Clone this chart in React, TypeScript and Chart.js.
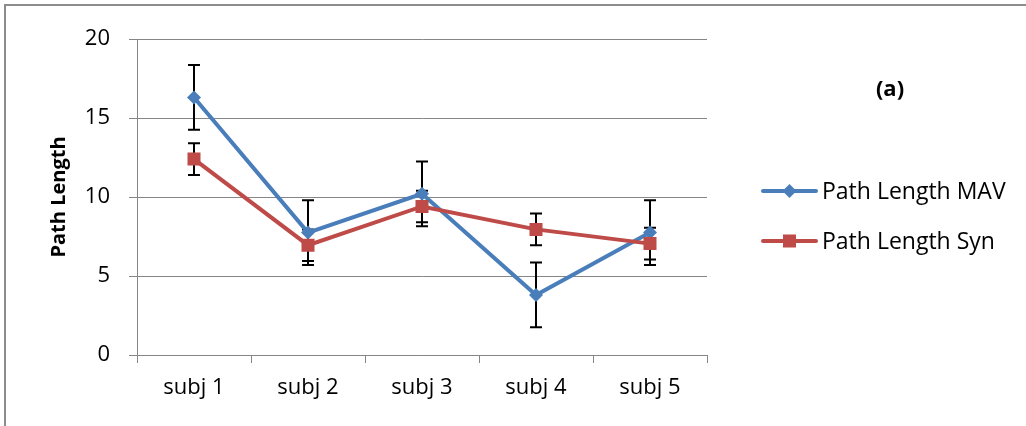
import { useEffect, useRef } from 'react';
import { Chart, registerables } from 'chart.js';

Chart.register(...registerables);

// Subjects along the category axis
const categories = ['subj 1', 'subj 2', 'subj 3', 'subj 4', 'subj 5'];

// Mean path length per subject and the half-height of each error bar
const mavValues = [16.3, 7.75, 10.2, 3.8, 7.75];
const mavErrors = [2.05, 2.05, 2.05, 2.05, 2.05];
const synValues = [12.4, 6.95, 9.4, 7.95, 7.05];
const synErrors = [1.0, 1.0, 1.0, 1.0, 1.0];

const seriesLabels = ['Path Length MAV', 'Path Length Syn'];
const yAxisTitle = 'Path Length';
const panelTag = '(a)';

const yMin = 0;
const yMax = 20;
const yStep = 5;

const FONT = '"Open Sans", "DejaVu Sans", sans-serif';
const BLUE = '#4A7EBB';
const RED = '#BE4B48';
const GRID = '#868686';

const errorsByDataset = [mavErrors, synErrors];

// Vertical error bars with caps, painted underneath the lines and markers
const errorBarsPlugin = {
  id: 'errorBars',
  beforeDatasetsDraw(chart: any) {
    const { ctx } = chart;
    const x = chart.scales.x;
    const y = chart.scales.y;
    ctx.save();
    ctx.strokeStyle = '#000000';
    ctx.lineWidth = 2;
    chart.data.datasets.forEach((ds: any, di: number) => {
      const errs = errorsByDataset[di];
      ds.data.forEach((v: number, i: number) => {
        const px = x.getPixelForValue(i);
        const top = y.getPixelForValue(v + errs[i]);
        const bot = y.getPixelForValue(v - errs[i]);
        ctx.beginPath();
        ctx.moveTo(px, top);
        ctx.lineTo(px, bot);
        ctx.moveTo(px - 6, top);
        ctx.lineTo(px + 6, top);
        ctx.moveTo(px - 6, bot);
        ctx.lineTo(px + 6, bot);
        ctx.stroke();
      });
    });
    ctx.restore();
  },
};

// Outer frame, legend with line + marker samples, and the panel tag
const decorPlugin = {
  id: 'decor',
  beforeDraw(chart: any) {
    const { ctx } = chart;
    ctx.save();
    ctx.strokeStyle = '#8c8c8c';
    ctx.lineWidth = 2;
    ctx.beginPath();
    ctx.moveTo(5, 426);
    ctx.lineTo(5, 5);
    ctx.lineTo(1026, 5);
    ctx.stroke();
    ctx.restore();
  },
  afterDraw(chart: any) {
    const { ctx } = chart;
    ctx.save();
    const entries = [
      { label: seriesLabels[0], color: BLUE, style: 'diamond', y: 191 },
      { label: seriesLabels[1], color: RED, style: 'square', y: 241 },
    ];
    entries.forEach((e) => {
      ctx.strokeStyle = e.color;
      ctx.lineWidth = 4;
      ctx.lineCap = 'round';
      ctx.beginPath();
      ctx.moveTo(763, e.y);
      ctx.lineTo(816, e.y);
      ctx.stroke();
      ctx.fillStyle = e.color;
      const cx = 789.5;
      ctx.beginPath();
      if (e.style === 'diamond') {
        ctx.moveTo(cx - 7, e.y);
        ctx.lineTo(cx, e.y - 7);
        ctx.lineTo(cx + 7, e.y);
        ctx.lineTo(cx, e.y + 7);
        ctx.closePath();
      } else {
        ctx.rect(cx - 6.5, e.y - 6.5, 13, 13);
      }
      ctx.fill();
      ctx.fillStyle = '#000000';
      ctx.font = `23px ${FONT}`;
      ctx.textAlign = 'left';
      ctx.textBaseline = 'middle';
      ctx.fillText(e.label, 822, e.y + 1);
    });
    ctx.font = `bold 22px ${FONT}`;
    ctx.textAlign = 'center';
    ctx.textBaseline = 'middle';
    ctx.fillStyle = '#000000';
    ctx.fillText(panelTag, 890, 90);
    ctx.restore();
  },
};

export default function App() {
  const canvasRef = useRef<HTMLCanvasElement | null>(null);

  useEffect(() => {
    document.body.style.margin = '0';
    const canvas = canvasRef.current;
    if (!canvas) return;
    const chart = new Chart(canvas, {
      type: 'line',
      data: {
        labels: categories,
        datasets: [
          {
            label: seriesLabels[0],
            data: mavValues,
            borderColor: BLUE,
            backgroundColor: BLUE,
            borderWidth: 4,
            pointStyle: 'rectRot',
            pointRadius: 7,
            pointBorderWidth: 0,
            pointBackgroundColor: BLUE,
            tension: 0,
            order: 1,
          },
          {
            label: seriesLabels[1],
            data: synValues,
            borderColor: RED,
            backgroundColor: RED,
            borderWidth: 4,
            pointStyle: 'rect',
            pointRadius: 9.2,
            pointBorderWidth: 0,
            pointBackgroundColor: RED,
            tension: 0,
            order: 0,
          },
        ],
      },
      options: {
        responsive: false,
        animation: false,
        devicePixelRatio: 1,
        layout: { padding: { top: 39, right: 319, bottom: 0, left: 0 } },
        plugins: {
          legend: { display: false },
          tooltip: { enabled: false },
        },
        scales: {
          x: {
            offset: true,
            grid: {
              offset: true,
              drawOnChartArea: false,
              drawTicks: true,
              tickLength: 8,
              color: GRID,
              lineWidth: 1,
            },
            border: { color: GRID, width: 1 },
            ticks: {
              color: '#000000',
              font: { family: FONT, size: 22 },
              padding: 12,
              maxRotation: 0,
            },
            afterFit(scale: any) {
              scale.height = 71;
            },
          },
          y: {
            min: yMin,
            max: yMax,
            ticks: {
              stepSize: yStep,
              color: '#000000',
              font: { family: FONT, size: 22 },
              padding: 19,
            },
            grid: { color: GRID, lineWidth: 1, tickLength: 8, drawTicks: true },
            border: { color: GRID, width: 1 },
            title: {
              display: true,
              text: yAxisTitle,
              color: '#000000',
              font: { family: FONT, size: 20, weight: 'bold' },
              padding: { top: 47, bottom: 0 },
            },
            afterFit(scale: any) {
              scale.width = 137;
            },
          },
        },
      },
      plugins: [errorBarsPlugin, decorPlugin],
    });
    return () => chart.destroy();
  }, []);

  return (
    <canvas
      ref={canvasRef}
      width={1026}
      height={426}
      style={{ display: 'block', width: 1026, height: 426 }}
    />
  );
}
